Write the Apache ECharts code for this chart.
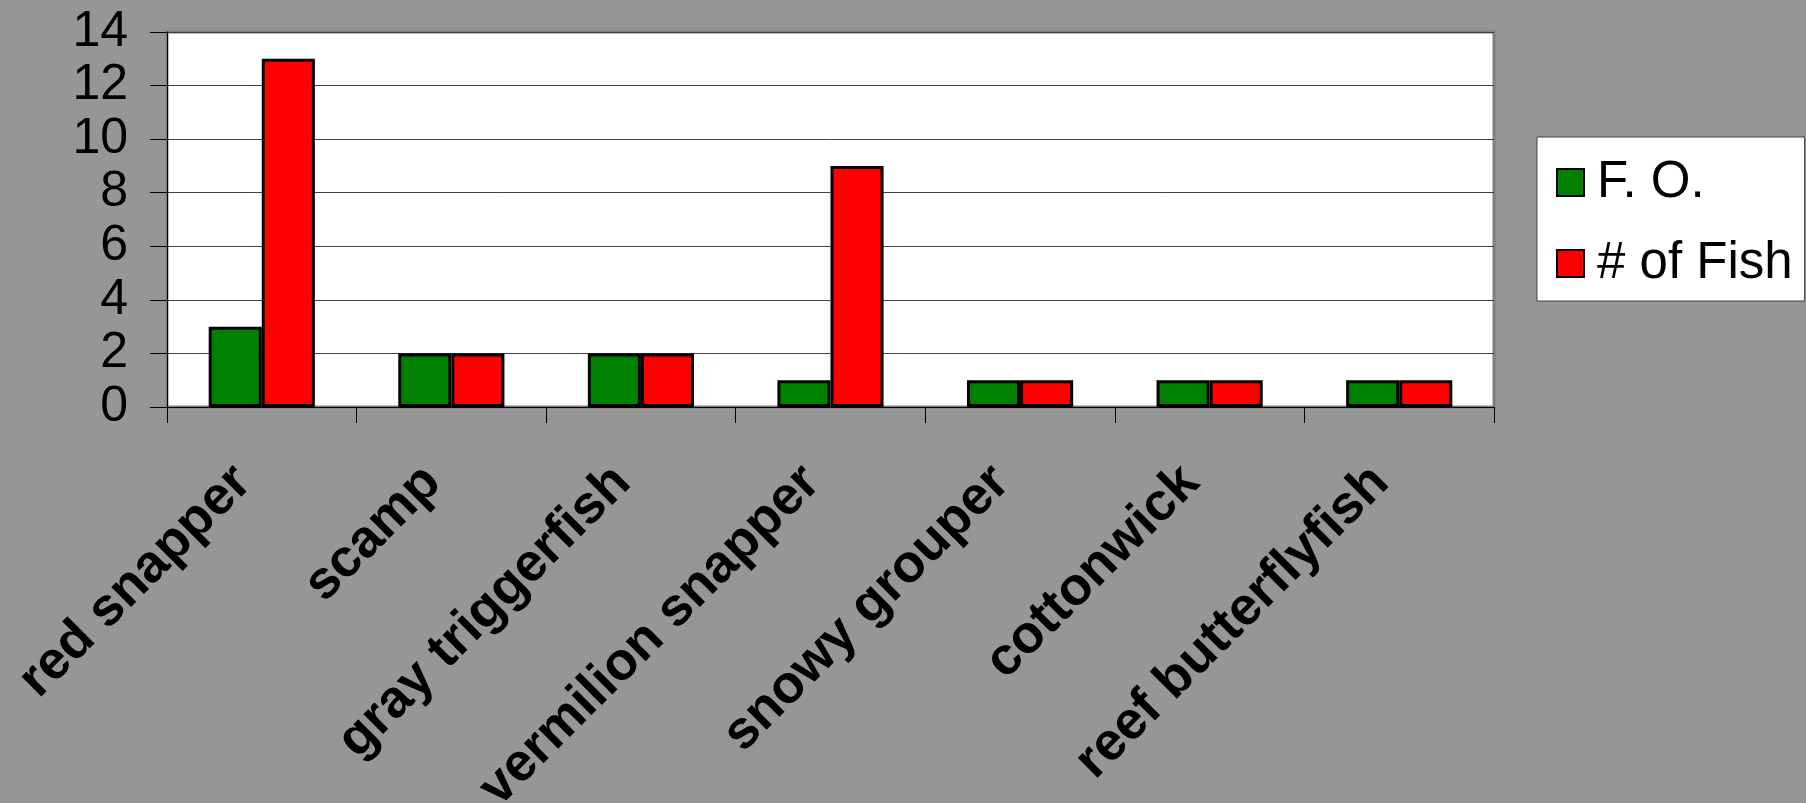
<!DOCTYPE html>
<html>
<head>
<meta charset="utf-8">
<script src="https://cdn.jsdelivr.net/npm/echarts@6/dist/echarts.min.js"></script>
<style>
html,body{margin:0;padding:0;background:#969696;}
#c{width:1806px;height:803px;}
</style>
</head>
<body>
<div id="c"></div>
<script>
const categories = ['red snapper','scamp','gray triggerfish','vermilion snapper','snowy grouper','cottonwick','reef butterflyfish'];
const seriesNames = ['F. O.', '# of Fish'];
const foValues = [3, 2, 2, 1, 1, 1, 1];
const fishValues = [13, 2, 2, 9, 1, 1, 1];
const yTicks = [0, 2, 4, 6, 8, 10, 12, 14];

const chart = echarts.init(document.getElementById('c'));
chart.setOption({
  backgroundColor: '#969696',
  animation: false,
  grid: {
    left: 167, right: 312, top: 32, bottom: 396,
    containLabel: false,
    outerBoundsMode: 'none',
    show: true, backgroundColor: '#ffffff', borderColor: '#7f7f7f', borderWidth: 3
  },
  legend: {
    orient: 'vertical',
    left: 1537, top: 137,
    backgroundColor: '#ffffff',
    borderColor: '#404040', borderWidth: 1,
    padding: [20, 12, 12, 19],
    itemGap: 30,
    itemWidth: 27, itemHeight: 27,
    icon: 'rect',
    textStyle: { fontFamily: 'Liberation Sans', fontSize: 51, lineHeight: 51, color: '#000', padding: [0, 0, 0, 8] },
    data: seriesNames
  },
  xAxis: {
    type: 'category',
    data: categories,
    axisLine: { lineStyle: { color: '#000', width: 1 } },
    axisTick: { show: true, length: 16, lineStyle: { color: '#000' } },
    axisLabel: {
      rotate: 45, margin: 86, interval: 0, hideOverlap: false,
      verticalAlign: 'bottom',
      fontFamily: 'Liberation Sans', fontWeight: 'bold', fontSize: 53, color: '#000'
    }
  },
  yAxis: {
    type: 'value',
    min: yTicks[0], max: yTicks[yTicks.length - 1], interval: 2,
    axisLine: { show: true, lineStyle: { color: '#000', width: 1 } },
    axisTick: { show: true, length: 17, lineStyle: { color: '#000' } },
    axisLabel: { margin: 39, showMinLabel: true, showMaxLabel: true, hideOverlap: false,
      fontFamily: 'Liberation Sans', fontSize: 50, color: '#000' },
    splitLine: { lineStyle: { color: '#404040', width: 1 } }
  },
  series: [
    {
      name: seriesNames[0], type: 'bar', data: foValues,
      barGap: '0%', barCategoryGap: '44%',
      itemStyle: { color: '#008000', borderColor: '#000', borderWidth: 3 }
    },
    {
      name: seriesNames[1], type: 'bar', data: fishValues,
      itemStyle: { color: '#ff0000', borderColor: '#000', borderWidth: 3 }
    }
  ]
});
</script>
</body>
</html>
